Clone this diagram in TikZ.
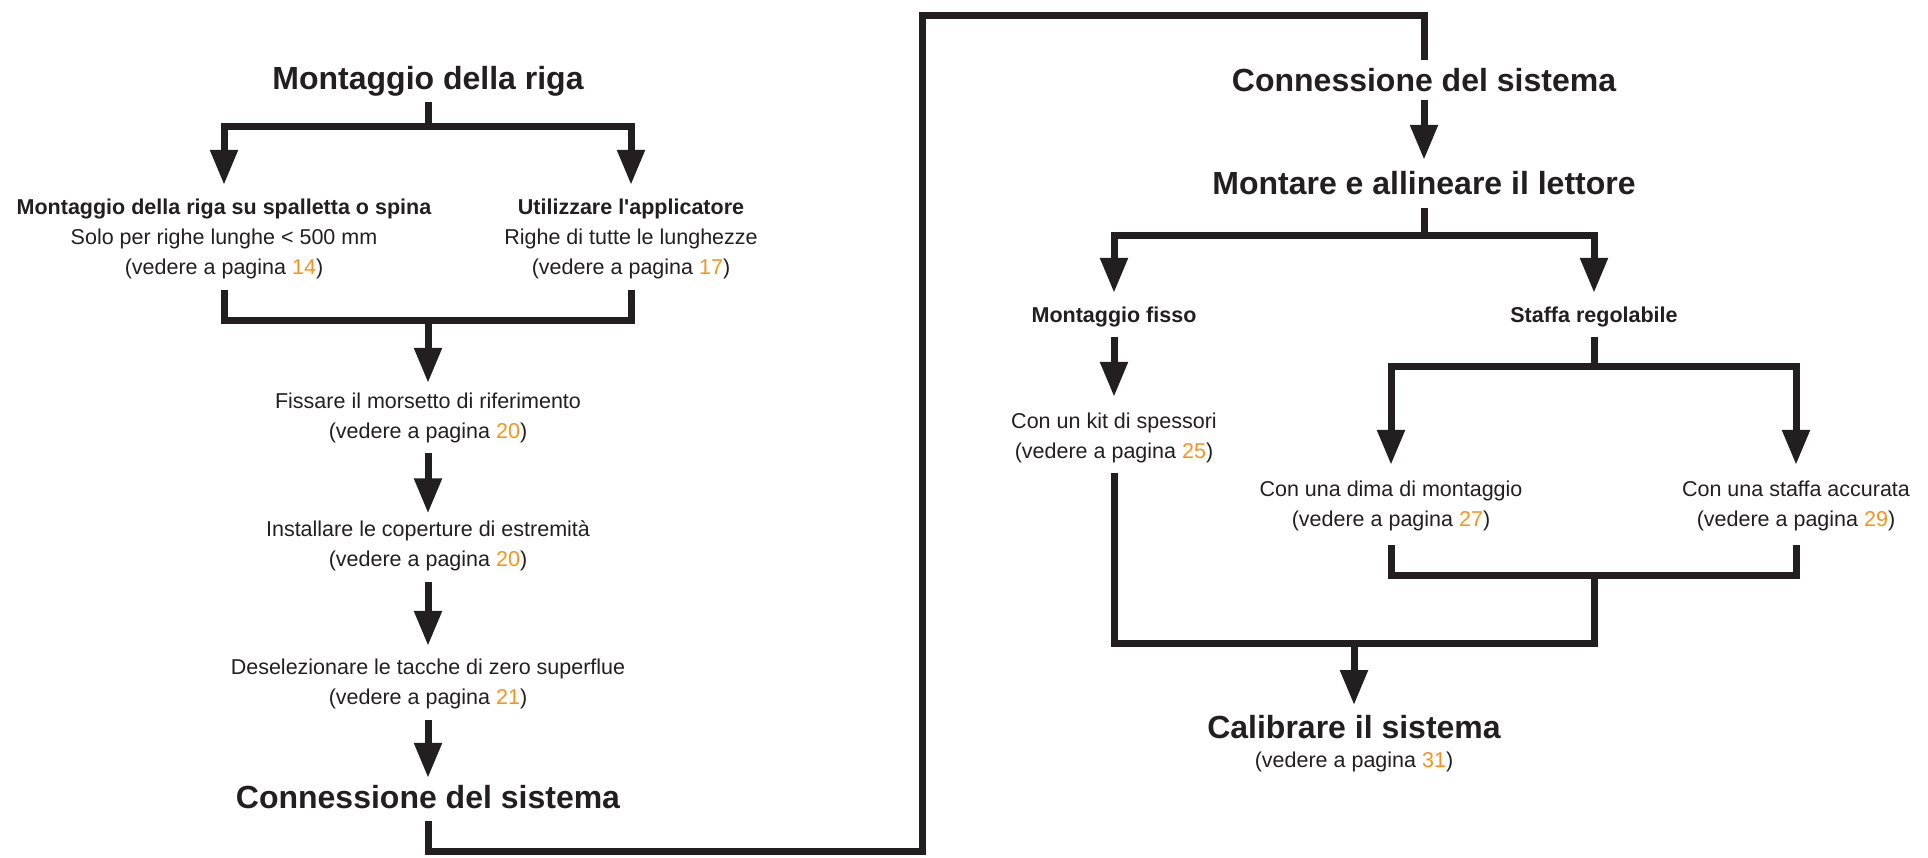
\documentclass[tikz,border=0pt]{standalone}
\usepackage{fontspec}
\setmainfont{Liberation Sans}
\usetikzlibrary{arrows.meta}
\definecolor{ink}{HTML}{231F20}
\definecolor{pgorange}{HTML}{F7941D}
\newcommand\pg[1]{\textcolor{pgorange}{#1}}
\newcommand\ls{\rule[-7.3pt]{0pt}{30pt}}
\newcommand\lb{\rule[-7pt]{0pt}{37pt}}
\newcommand\apos{\XeTeXglyph\XeTeXglyphindex "quotesingle"\relax}
\tikzset{
  big/.style={inner sep=0pt, text=ink, font=\fontsize{32}{37}\selectfont\bfseries},
  sub/.style={inner sep=0pt, text=ink, align=center, font=\fontsize{21.5}{30}\selectfont},
  ln/.style={draw=ink, line width=7pt, line join=miter, line cap=butt},
  arr/.style={ln, -{Triangle[length=35pt,width=26.5pt]}},
}
\begin{document}
\begin{tikzpicture}[x=1pt,y=-1pt]
\useasboundingbox (0,0) rectangle (1928,857);
% left column
\node[big] (t1) at (428,78) {\lb Montaggio della riga};
\node[sub] (a1) at (224,236.7) {\ls\textbf{Montaggio della riga su spalletta o spina}\\\ls Solo per righe lunghe < 500 mm\\\ls (vedere a pagina \pg{14})};
\node[sub] (a2) at (631,236.7) {\ls\textbf{Utilizzare l\apos applicatore}\\\ls Righe di tutte le lunghezze\\\ls (vedere a pagina \pg{17})};
\node[sub] (b1) at (428,416) {\ls Fissare il morsetto di riferimento\\\ls (vedere a pagina \pg{20})};
\node[sub] (b2) at (428,543.5) {\ls Installare le coperture di estremità\\\ls (vedere a pagina \pg{20})};
\node[sub] (b3) at (428,682) {\ls Deselezionare le tacche di zero superflue\\\ls (vedere a pagina \pg{21})};
\node[big] (c1) at (428,796.5) {\lb Connessione del sistema};
% right column
\node[big] (r1) at (1424,80) {\lb Connessione del sistema};
\node[big] (r2) at (1424,183) {\lb Montare e allineare il lettore};
\node[sub] (r3) at (1114,315) {\ls\textbf{Montaggio fisso}};
\node[sub] (r4) at (1594,315) {\ls\textbf{Staffa regolabile}};
\node[sub] (r5) at (1114,436) {\ls Con un kit di spessori\\\ls (vedere a pagina \pg{25})};
\node[sub] (r6) at (1391,503.5) {\ls Con una dima di montaggio\\\ls (vedere a pagina \pg{27})};
\node[sub] (r7) at (1796,503.5) {\ls Con una staffa accurata\\\ls (vedere a pagina \pg{29})};
\node[big] (cal) at (1354,726.7) {\lb Calibrare il sistema};
\node[sub] (calv) at (1354,760) {\ls (vedere a pagina \pg{31})};
% junctions
\coordinate (jt) at (428,126);
\coordinate (jb) at (428,320);
\coordinate (k1) at (922,851);
\coordinate (k2) at (922,15);
\coordinate (jr) at (1424,235);
\coordinate (js) at (1594,366);
\coordinate (jm) at (1594,575);
\coordinate (jc) at (1594,643);
\coordinate (jcal) at (1354,643);
% left connectors
\draw[ln, shorten <=5.7pt] (t1) -- (jt);
\draw[arr, shorten >=6.7pt] (jt) -| (a1);
\draw[arr, shorten >=6.7pt] (jt) -| (a2);
\draw[ln, shorten <=8.3pt, shorten >=8.3pt] (a1) |- (jb) -| (a2);
\draw[arr, shorten >=3pt] (jb) -- (b1);
\draw[arr, shorten <=6.5pt, shorten >=0pt] (b1) -- (b2);
\draw[arr, shorten <=8pt, shorten >=6pt] (b2) -- (b3);
\draw[arr, shorten <=8pt, shorten >=0pt] (b3) -- (c1);
\draw[ln, shorten <=6pt, shorten >=1pt] (c1) |- (k1) -- (k2) -| (r1);
% right connectors
\draw[arr, shorten <=1.5pt, shorten >=4.5pt] (r1) -- (r2);
\draw[ln, shorten <=6.5pt] (r2) -- (jr);
\draw[arr, shorten >=7pt] (jr) -| (r3);
\draw[arr, shorten >=7pt] (jr) -| (r4);
\draw[arr, shorten <=7pt, shorten >=9pt] (r3) -- (r5);
\draw[ln, shorten <=7pt] (r4) -- (js);
\draw[arr, shorten >=8.5pt] (js) -| (r6);
\draw[arr, shorten >=8.5pt] (js) -| (r7);
\draw[ln, shorten <=11.5pt, shorten >=11.5pt] (r6) |- (jm) -| (r7);
\draw[ln, shorten <=7pt] (r5) |- (jc) -- (jm);
\draw[arr, shorten >=3pt] (jcal) -- (cal);
\end{tikzpicture}
\end{document}
